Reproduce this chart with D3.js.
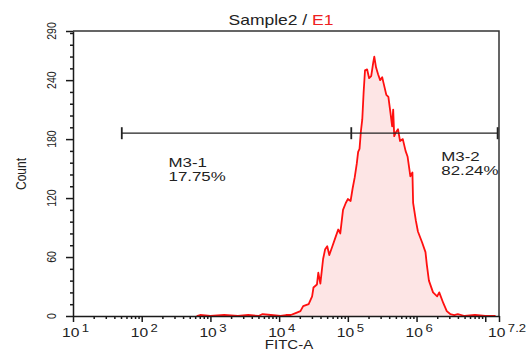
<!DOCTYPE html>
<html lang="en">
  <head>
    <meta charset="utf-8">
    <title>Sample2 / E1 histogram</title>
    <script src="https://d3js.org/d3.v7.min.js"></script>
    <style>
      html, body { margin: 0; padding: 0; background: #fff; }
      svg { display: block; font-family: "Liberation Sans", Arial, sans-serif; }
      .axis path, .axis line { stroke: #1a1a1a; stroke-width: 1.5; }
    </style>
  </head>
  <body>
    <svg width="532" height="363"></svg>
    <script>
      // histogram: FITC-A channel (log10) and event count
      var fitcLog = [2.80, 2.85, 3.00, 3.20, 3.40, 3.55, 3.70, 3.76, 3.88, 4.02, 4.10, 4.17, 4.24, 4.31, 4.35,
        4.43, 4.48, 4.50, 4.55, 4.57, 4.60, 4.64, 4.67, 4.70, 4.73, 4.77, 4.82, 4.86, 4.89, 4.93, 4.97,
        5.00, 5.04, 5.07, 5.10, 5.13, 5.15, 5.17, 5.19, 5.21, 5.23, 5.25, 5.28, 5.31, 5.34, 5.37, 5.385,
        5.41, 5.44, 5.47, 5.50, 5.52, 5.56, 5.59, 5.62, 5.645, 5.66, 5.675, 5.70, 5.73, 5.76, 5.80, 5.84,
        5.87, 5.91, 5.94, 5.95, 5.99, 6.02, 6.08, 6.13, 6.15, 6.18, 6.24, 6.30, 6.33, 6.39, 6.44, 6.49,
        6.55, 6.60, 6.70, 6.85, 7.00, 7.15];
      var counts = [0, 1, 0, 1, 0, 1, 0, 2, 1, 0, 1, 1, 3, 5, 10,
        12, 20, 29, 32, 44, 33, 58, 68, 71, 62, 70, 80, 88, 84, 108, 115,
        119, 117, 130, 141, 155, 167, 170, 188, 200, 228, 250, 251, 242, 244, 258, 264,
        253, 246, 240, 243, 237, 225, 223, 207, 193, 210, 183, 187, 190, 178, 180, 168,
        162, 142, 146, 115, 97, 86, 75, 65, 52, 36, 24, 20, 24, 13, 5, 2,
        1, 2, 0, 1, 0, 0];

      var gateNames = ['M3-1', 'M3-2'];
      var gatePercents = ['17.75%', '82.24%'];
      var gateEdgesLog = [1.71, 5.05, 7.18];   // left, split, right
      var gateLevel = 186;
      var gateLabelLog = [2.39, 6.36];

      var xDecades = [1, 2, 3, 4, 5, 6];
      var xMaxLog = 7.2;
      var yMajor = [0, 60, 120, 180, 240, 290];
      var yMax = 290;

      var W = 532, H = 363;
      var margin = {left: 73, right: 33, top: 31, bottom: 47};
      var SX = 1.25;  // the picture is stretched sideways, text too

      var svg = d3.select('svg');

      var x = d3.scaleLog()
        .domain([10, Math.pow(10, xMaxLog)])
        .range([margin.left, W - margin.right]);
      var y = d3.scaleLinear()
        .domain([0, yMax])
        .range([H - margin.bottom, margin.top]);

      function stretched(sel, tx, ty, rot) {
        return sel.attr('transform', 'translate(' + tx + ',' + ty + ') scale(' + SX + ',1)' + (rot ? ' rotate(' + rot + ')' : ''));
      }

      var data = fitcLog.map(function(l, i) { return {v: Math.pow(10, l), c: counts[i]}; });

      // histogram
      svg.append('path')
        .datum(data)
        .attr('fill', '#fde5e5')
        .attr('d', d3.area().x(function(d) { return x(d.v); }).y0(y(0)).y1(function(d) { return y(d.c); }));
      svg.append('path')
        .datum(data)
        .attr('fill', 'none')
        .attr('stroke', '#ff1010')
        .attr('stroke-width', 1.8)
        .attr('stroke-linejoin', 'round')
        .attr('d', d3.line().x(function(d) { return x(d.v); }).y(function(d) { return y(d.c); }));

      // frame
      svg.append('path')
        .attr('fill', 'none')
        .attr('stroke', '#333')
        .attr('stroke-width', 1.5)
        .attr('d', 'M' + x.range()[0] + ',' + y(yMax) + 'H' + x.range()[1] + 'V' + y(0));

      // y axis
      var yTicks = d3.range(0, yMax, 12).concat([yMax]);
      var yAxis = svg.append('g')
        .attr('class', 'axis')
        .attr('transform', 'translate(' + margin.left + ',0)')
        .call(d3.axisLeft(y).tickValues(yTicks).tickSize(3).tickSizeOuter(0).tickFormat(''));
      yAxis.selectAll('.tick line')
        .attr('x2', function(d) { return yMajor.indexOf(d) >= 0 ? -7 : -3; })
        .attr('stroke-width', 1.2);

      yMajor.forEach(function(v) {
        stretched(svg.append('text'), 56, y(v), -90)
          .attr('text-anchor', 'middle')
          .attr('font-size', 10.5)
          .attr('fill', '#222')
          .text(v);
      });
      stretched(svg.append('text'), 26, 174, -90)
        .attr('text-anchor', 'middle')
        .attr('font-size', 12)
        .attr('fill', '#222')
        .text('Count');

      // x axis
      var xMinor = [];
      xDecades.forEach(function(k) {
        for (var m = 2; m <= 9; m++) xMinor.push(m * Math.pow(10, k));
      });
      var xMajorVals = xDecades.map(function(k) { return Math.pow(10, k); }).concat([Math.pow(10, 7), Math.pow(10, xMaxLog)]);
      var xAxis = svg.append('g')
        .attr('class', 'axis')
        .attr('transform', 'translate(0,' + y(0) + ')')
        .call(d3.axisBottom(x).tickValues(xMajorVals.concat(xMinor)).tickSize(3).tickSizeOuter(0).tickFormat(''));
      xAxis.selectAll('.tick line')
        .attr('y2', function(d) { return xMajorVals.indexOf(d) >= 0 ? 6 : 3; })
        .attr('stroke-width', 1.2);

      var xLabelExp = xDecades.map(String).concat(['7.2']);
      var xLabelVals = xDecades.map(function(k) { return Math.pow(10, k); }).concat([Math.pow(10, xMaxLog)]);
      xLabelVals.forEach(function(v, i) {
        var t = stretched(svg.append('text'), x(v) - 11, 337)
          .attr('font-size', 12.5)
          .attr('fill', '#222');
        t.append('tspan').text('10');
        t.append('tspan').attr('dx', 2).attr('dy', -5).attr('font-size', 10.5).text(xLabelExp[i]);
      });
      stretched(svg.append('text'), 289, 349)
        .attr('text-anchor', 'middle')
        .attr('font-size', 12)
        .attr('fill', '#222')
        .text('FITC-A');

      // title
      var title = stretched(svg.append('text'), 281, 25)
        .attr('text-anchor', 'middle')
        .attr('font-size', 14)
        .attr('fill', '#222');
      title.append('tspan').text('Sample2 / ');
      title.append('tspan').attr('fill', '#ee2020').text('E1');

      // marker gates
      var gy = y(gateLevel);
      var gx = gateEdgesLog.map(function(l) { return x(Math.pow(10, l)); });
      svg.append('line')
        .attr('x1', gx[0]).attr('x2', gx[2])
        .attr('y1', gy).attr('y2', gy)
        .attr('stroke', '#222').attr('stroke-width', 1.3);
      gx.forEach(function(px) {
        svg.append('line')
          .attr('x1', px).attr('x2', px)
          .attr('y1', gy - 6).attr('y2', gy + 6)
          .attr('stroke', '#222').attr('stroke-width', 1.8);
      });

      var labelBase = [167, 161];
      gateNames.forEach(function(name, i) {
        var lx = x(Math.pow(10, gateLabelLog[i]));
        stretched(svg.append('text'), lx, labelBase[i])
          .attr('font-size', 13.5).attr('fill', '#222').text(name);
        stretched(svg.append('text'), lx, labelBase[i] + 14)
          .attr('font-size', 13.5).attr('fill', '#222').text(gatePercents[i]);
      });
    </script>
  </body>
</html>
